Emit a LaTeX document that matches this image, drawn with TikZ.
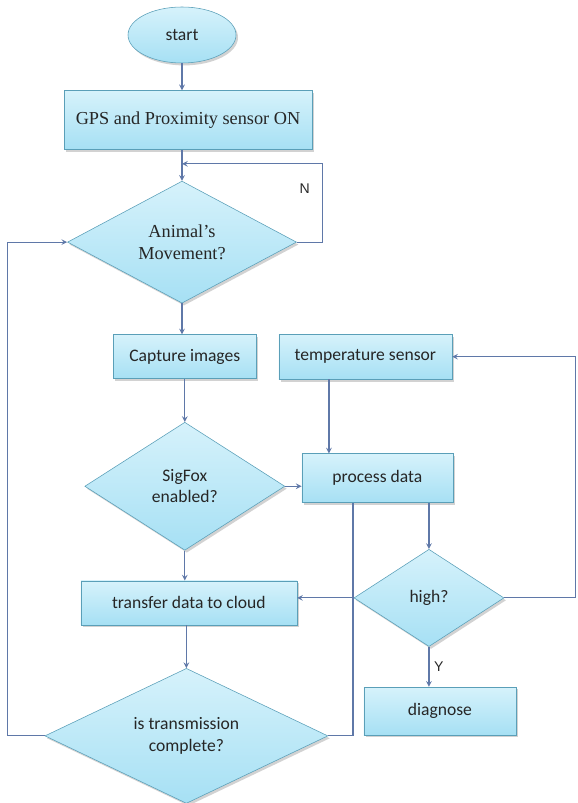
\documentclass[tikz,border=0pt]{standalone}
\usepackage{fontspec}
\setmainfont{Carlito}
\newfontfamily\serifbox{Liberation Serif}
\newfontfamily\labfont{Liberation Sans}
\usepackage{xcolor}
\usepackage{tikz}
\usetikzlibrary{shapes.geometric, arrows.meta, positioning, calc, shadows}

\definecolor{boxtop}{HTML}{D6F2FB}
\definecolor{boxbot}{HTML}{A6E0F4}
\definecolor{boxline}{HTML}{5A9FB8}
\definecolor{flowline}{HTML}{5F78A8}
\definecolor{textgray}{HTML}{262626}

\begin{document}
\begin{tikzpicture}[
    node distance=0.75cm,
    shape base/.style={draw=boxline, top color=boxtop, bottom color=boxbot, align=center, text=textgray,
        font=\fontsize{12.5}{15}\selectfont, drop shadow={shadow xshift=0.05cm, shadow yshift=-0.06cm, fill=black!35, opacity=0.5}},
    process/.style={shape base, rectangle, inner sep=2pt},
    decision/.style={shape base, diamond, inner sep=0pt, aspect=1.8},
    terminal/.style={shape base, ellipse},
    arrow/.style={->, >=stealth, thick, draw=flowline},
    line/.style={thick, draw=flowline},
    label/.style={font=\labfont\fontsize{10}{12}\selectfont, text=textgray}
]
\useasboundingbox (0,0) rectangle (14.425,-20.075);

% Main column
\node[terminal, minimum width=2.7cm, minimum height=1.4cm] (start) at (4.55,-0.875) {start};
\node[process, below=0.675cm of start, minimum width=6.2cm, minimum height=1.475cm, xshift=0.15cm,
      font=\serifbox\fontsize{13}{15}\selectfont] (gps) {GPS and Proximity sensor ON};
\node[decision, below=0.775cm of start.south |- gps.south, minimum width=5.725cm, minimum height=3.05cm,
      font=\serifbox\fontsize{13}{15.5}\selectfont] (anim) {Animal’s\\Movement?};
\node[process, below=0.775cm of anim, minimum width=3.575cm, minimum height=1.1cm, xshift=0.07cm] (cap) {Capture images};
\node[decision, below=1.075cm of cap, minimum width=5cm, minimum height=3.2cm] (sig) {SigFox\\enabled?};
\node[process, below=0.75cm of sig, minimum width=5.4cm, minimum height=1.1cm, xshift=0.1cm] (trans) {transfer data to cloud};
\node[decision, below=1.075cm of trans, minimum width=7.075cm, minimum height=3.375cm, xshift=-0.06cm] (done) {is transmission\\complete?};

% Right column
\node[process, right=0.55cm of cap, minimum width=4.325cm, minimum height=1.125cm] (temp) {temperature sensor};
\node[process, below=1.85cm of temp, minimum width=3.775cm, minimum height=1.225cm, xshift=0.3cm] (proc) {process data};
\node[decision, below=1.15cm of proc, minimum width=3.75cm, minimum height=2.43cm, xshift=1.29cm] (high) {high?};
\node[process, below=1cm of high, minimum width=3.8cm, minimum height=1.2cm, xshift=0.275cm] (diag) {diagnose};

% Main flow
\draw[arrow] (start) -- (start |- gps.north);
\draw[arrow] (start |- gps.south) -- (anim.north);
\draw[arrow] (anim.south) -- (anim.south |- cap.north);
\draw[arrow] (sig.north |- cap.south) -- (sig.north);
\draw[arrow] (sig.south) -- (sig.south |- trans.north);
\draw[arrow] (done.north |- trans.south) -- (done.north);

% Loops
\draw[arrow] (anim.east) -- ++(0.65,0) |- ([yshift=0.425cm]anim.north);
\node[label] (nlab) at ($(anim.east)+(0.2,1.325)$) {N};
\draw[arrow] (done.west) -- ++(-0.925,0) |- (anim.west);

% Sensor branch
\draw[arrow] ([xshift=-0.91cm]temp.south) -- ([xshift=-0.91cm]temp.south |- proc.north);
\draw[arrow] (sig.east) -- (sig.east -| proc.west);
\draw[line] ([xshift=-0.61cm]proc.south) |- (done.east);
\draw[arrow] ([xshift=1.29cm]proc.south) -- (high.north);
\draw[arrow] (high.west) -- (high.west -| trans.east);
\draw[arrow] (high.south) -- node[label, right] (ylab) {Y} (high.south |- diag.north);
\draw[arrow] (high.east) -- ++(1.775,0) |- (temp.east);

\end{tikzpicture}
\end{document}
